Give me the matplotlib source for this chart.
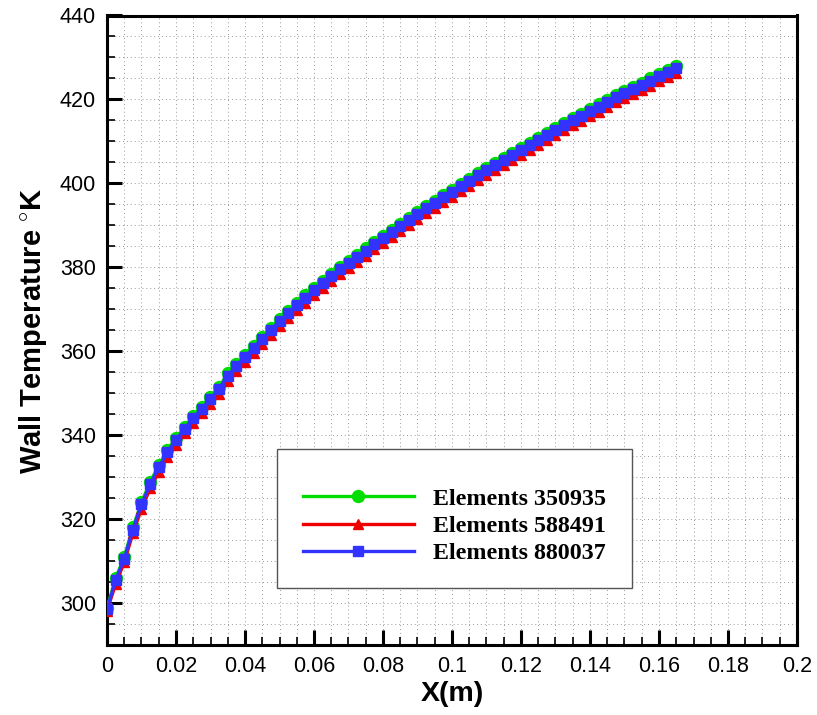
import matplotlib
matplotlib.use("Agg")
import matplotlib.pyplot as plt
from matplotlib.ticker import MultipleLocator, FormatStrFormatter
from matplotlib.patches import Rectangle

x_m = [0.0, 0.0025, 0.005, 0.0075, 0.01, 0.0125, 0.015, 0.0175, 0.02, 0.0225,
       0.025, 0.0275, 0.03, 0.0325, 0.035, 0.0375, 0.04, 0.0425, 0.045, 0.0475,
       0.05, 0.0525, 0.055, 0.0575, 0.06, 0.0625, 0.065, 0.0675, 0.07, 0.0725,
       0.075, 0.0775, 0.08, 0.0825, 0.085, 0.0875, 0.09, 0.0925, 0.095, 0.0975,
       0.1, 0.1025, 0.105, 0.1075, 0.11, 0.1125, 0.115, 0.1175, 0.12, 0.1225,
       0.125, 0.1275, 0.13, 0.1325, 0.135, 0.1375, 0.14, 0.1425, 0.145, 0.1475,
       0.15, 0.1525, 0.155, 0.1575, 0.16, 0.1625, 0.165]

temp_350935 = [298.8, 305.9, 311.0, 318.0, 324.0, 328.8, 332.8, 336.5, 339.3, 342.0,
               344.5, 346.8, 349.2, 351.5, 354.7, 356.9, 359.1, 361.3, 363.5, 365.6,
               367.6, 369.6, 371.5, 373.3, 375.1, 376.8, 378.4, 380.0, 381.5, 383.0,
               384.5, 386.0, 387.5, 389.0, 390.4, 391.8, 393.2, 394.6, 395.9, 397.2,
               398.5, 399.8, 401.1, 402.4, 403.7, 404.9, 406.1, 407.3, 408.5, 409.7,
               410.9, 412.1, 413.3, 414.4, 415.5, 416.6, 417.7, 418.8, 419.9, 421.0,
               422.0, 423.0, 424.0, 425.0, 426.0, 427.0, 428.0]

temp_588491 = [298.2, 304.5, 309.8, 316.6, 322.5, 327.3, 331.3, 334.9, 337.7, 340.4,
               342.9, 345.2, 347.5, 349.8, 353.0, 355.2, 357.4, 359.6, 361.8, 363.9,
               365.9, 367.9, 369.8, 371.6, 373.4, 375.1, 376.7, 378.3, 379.8, 381.3,
               382.8, 384.3, 385.8, 387.3, 388.7, 390.1, 391.5, 392.9, 394.2, 395.5,
               396.8, 398.1, 399.4, 400.7, 402.0, 403.2, 404.4, 405.6, 406.8, 408.0,
               409.2, 410.4, 411.6, 412.7, 413.8, 414.9, 416.0, 417.1, 418.2, 419.3,
               420.3, 421.3, 422.3, 423.3, 424.3, 425.3, 426.2]

temp_880037 = [298.5, 305.5, 310.5, 317.5, 323.5, 328.3, 332.3, 336.0, 338.8, 341.5,
               344.0, 346.3, 348.7, 351.0, 354.2, 356.4, 358.6, 360.8, 363.0, 365.1,
               367.1, 369.1, 371.0, 372.8, 374.6, 376.3, 377.9, 379.5, 381.0, 382.5,
               384.0, 385.5, 387.0, 388.5, 389.9, 391.3, 392.7, 394.1, 395.4, 396.7,
               398.0, 399.3, 400.6, 401.9, 403.2, 404.4, 405.6, 406.8, 408.0, 409.2,
               410.4, 411.6, 412.8, 413.9, 415.0, 416.1, 417.2, 418.3, 419.4, 420.5,
               421.5, 422.5, 423.5, 424.5, 425.5, 426.5, 427.4]

series_labels = ["Elements 350935", "Elements 588491", "Elements 880037"]

plt.rcParams["mathtext.fontset"] = "custom"
plt.rcParams["mathtext.rm"] = "Liberation Sans"
plt.rcParams["mathtext.bf"] = "Liberation Sans:bold"

W, H = 817, 715
fig = plt.figure(figsize=(W / 100, H / 100), dpi=100)
ax = fig.add_axes([107 / W, 1 - 645 / H, 690 / W, (645 - 15.5) / H])

l1, = ax.plot(x_m, temp_350935, color="#00dd00", lw=2.4, marker="o", ms=8.6, zorder=3)
l2, = ax.plot(x_m, temp_588491, color="#ee0000", lw=2.4, marker="^", ms=7.5, zorder=4)
l3, = ax.plot(x_m, temp_880037, color="#3333ff", lw=2.4, marker="s", ms=7.2, zorder=5)

ax.set_xlim(0, 0.2)
ax.set_ylim(290, 440)
ax.xaxis.set_major_locator(MultipleLocator(0.02))
ax.xaxis.set_minor_locator(MultipleLocator(0.005))
ax.yaxis.set_major_locator(MultipleLocator(20))
ax.yaxis.set_minor_locator(MultipleLocator(5))
ax.xaxis.set_major_formatter(FormatStrFormatter("%g"))

ax.grid(which="both", color="#9a9a9a", linestyle=(0, (1, 3)), linewidth=0.7)
ax.set_axisbelow(True)

for s in ax.spines.values():
    s.set_linewidth(2.2)
ax.tick_params(which="major", direction="in", length=11, width=2.2,
               labelsize=15.5, pad=8, top=False, right=False)
ax.tick_params(which="minor", direction="in", length=6, width=1.2, top=False, right=False)
for lab in ax.get_xticklabels() + ax.get_yticklabels():
    lab.set_family("Liberation Sans")

ax.set_xlabel("X(m)", fontsize=20.5, fontweight="bold", family="Liberation Sans", labelpad=3)
ax.set_ylabel("Wall Temperature $^{\\circ}$K", fontsize=21, fontweight="bold",
              family="Liberation Sans", labelpad=8)

# legend box
ax.add_patch(Rectangle((277, H - 588), 355, 139, transform=None, fill=True,
                       facecolor="white", edgecolor="#555555", lw=1.0, zorder=6))
leg = fig.legend([l1, l2, l3], series_labels, loc="upper left",
                 bbox_to_anchor=(291 / W, 1 - 476 / H), frameon=False, borderpad=0,
                 prop={"family": "Liberation Serif", "weight": "bold", "size": 17.3},
                 handlelength=4.6, handletextpad=0.8, labelspacing=0.22)
leg.set_zorder(7)

fig.savefig("out.png", dpi=100)
